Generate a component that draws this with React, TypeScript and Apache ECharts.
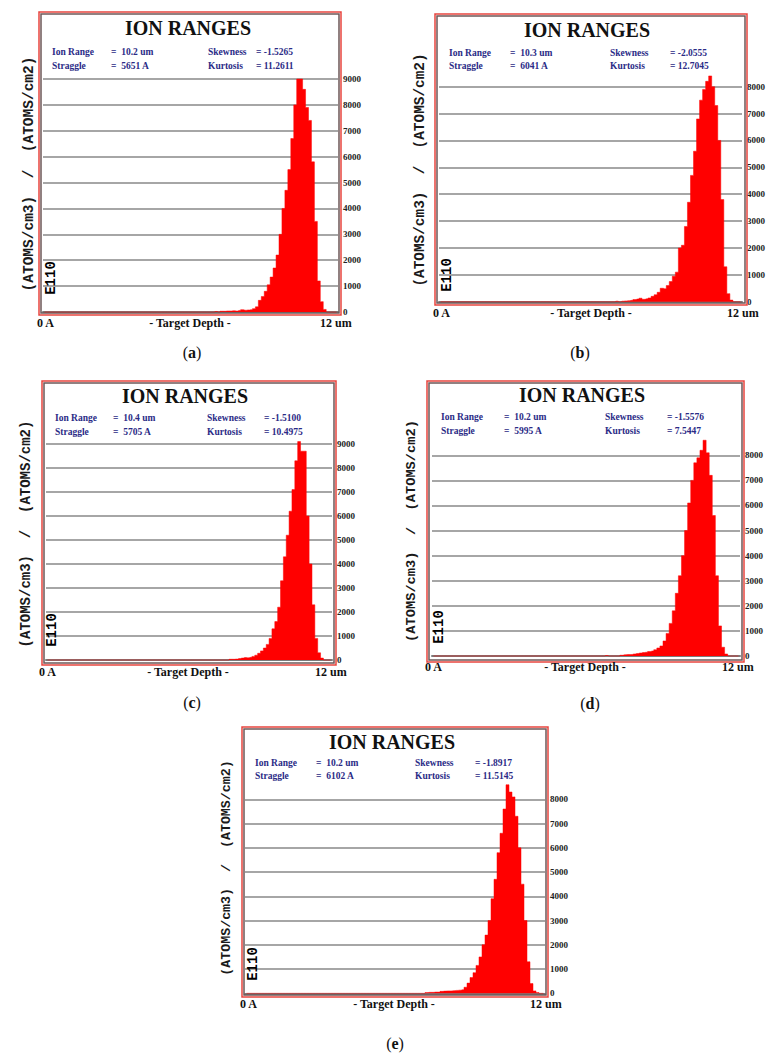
import React, { useEffect, useRef } from "react";
import * as echarts from "echarts";

// ---------- DATA (counts per 0.12 um bin, 100 bins over 0–12 um) ----------
const NUM_BINS = 100;

const startA = 58;
const countsA = [20, 0, 30, 30, 40, 40, 50, 40, 60, 90, 70, 80, 90, 130, 200, 450, 600, 800, 1050, 1350, 1700, 2200, 3000, 4000, 4700, 5500, 6700, 8000, 9000, 9000, 8600, 7900, 7400, 5800, 3500, 1200, 400, 100];

const startB = 58;
const countsB = [20, 0, 20, 30, 40, 50, 80, 100, 130, 90, 110, 140, 200, 260, 350, 500, 480, 600, 750, 950, 1100, 2000, 2100, 2800, 3700, 4700, 5600, 6800, 7500, 7900, 8200, 8400, 8000, 7300, 6000, 3800, 1300, 300, 60];

const startC = 64;
const countsC = [30, 30, 40, 60, 80, 100, 90, 110, 150, 200, 280, 380, 500, 650, 900, 1300, 1600, 2200, 3300, 4300, 5200, 6200, 7100, 8300, 9100, 8700, 8700, 6000, 4000, 2300, 900, 300, 80];

const startD = 56;
const countsD = [20, 0, 0, 0, 0, 30, 50, 60, 60, 80, 100, 120, 140, 150, 180, 200, 250, 320, 400, 600, 900, 1300, 1800, 2500, 3200, 4000, 5000, 6100, 7000, 7700, 7900, 8200, 8600, 8100, 7200, 5600, 3200, 1200, 350, 80];

const startE = 60;
const countsE = [30, 40, 40, 50, 50, 80, 90, 100, 100, 110, 120, 130, 150, 250, 420, 650, 850, 1150, 1500, 2000, 2400, 3000, 3900, 4700, 5800, 6600, 7600, 8600, 8300, 8100, 7300, 6000, 4500, 3000, 1300, 400, 100, 30];

const yMaxTicks = [9000, 8000, 9000, 8000, 8000];
const yInterval = 1000;

const ionRanges = ["10.2 um", "10.3 um", "10.4 um", "10.2 um", "10.2 um"];
const straggles = ["5651 A", "6041 A", "5705 A", "5995 A", "6102 A"];
const skewnesses = ["-1.5265", "-2.0555", "-1.5100", "-1.5576", "-1.8917"];
const kurtoses = ["11.2611", "12.7045", "10.4975", "7.5447", "11.5145"];
const captions = ["a", "b", "c", "d", "e"];

const titleText = "ION RANGES";
const yTitleText = "(ATOMS/cm3)  /  (ATOMS/cm2)";
const xLeftText = "0 A";
const xMidText = "- Target Depth -";
const xRightText = "12 um";
const ionText = "E110";

// ---------- LAYOUT ----------
type Layout = {
  frame: [number, number, number, number];
  grid: [number, number, number, number];
  title: [number, number];
  rows: [number, number];
  labX: number; eqX1: number; eqX2: number; rLabX: number; rEqX1: number; rEqX2: number;
  yTitle: [number, number, number];
  ion: [number, number];
  xLab: [number, number, number, number];
  cap: [number, number];
};

const layouts: Layout[] = [
  { frame: [39, 12, 341, 315], grid: [43, 79, 338, 312], title: [188, 28], rows: [52, 66],
    labX: 52, eqX1: 111, eqX2: 111, rLabX: 208, rEqX1: 256, rEqX2: 256,
    yTitle: [29, 174, 14.5], ion: [51, 278], xLab: [37, 190, 320, 323], cap: [192, 352] },
  { frame: [435, 14, 747, 305], grid: [439, 86.7, 742, 301.7], title: [587, 30], rows: [53, 66],
    labX: 449, eqX1: 510, eqX2: 510, rLabX: 610, rEqX1: 670, rEqX2: 670,
    yTitle: [420, 170, 14.4], ion: [447, 275], xLab: [433, 591, 727, 313], cap: [580, 352] },
  { frame: [42, 381, 336, 665], grid: [46, 444, 332, 660], title: [185, 396], rows: [418, 432],
    labX: 55, eqX1: 113, eqX2: 113, rLabX: 207, rEqX1: 264, rEqX2: 264,
    yTitle: [26, 534, 14], ion: [52, 630], xLab: [39, 188, 315, 672], cap: [192, 702] },
  { frame: [427, 381, 744, 662], grid: [432, 455.3, 740, 656], title: [582, 395], rows: [417, 431],
    labX: 441, eqX1: 504, eqX2: 504, rLabX: 605, rEqX1: 667, rEqX2: 667,
    yTitle: [411, 531, 13.7], ion: [439, 627], xLab: [425, 585, 722, 667], cap: [590, 703] },
  { frame: [242, 727, 548, 997], grid: [245, 799.3, 545, 993.3], title: [392, 742], rows: [763, 776],
    labX: 255, eqX1: 316, eqX2: 316, rLabX: 415, rEqX1: 475, rEqX2: 475,
    yTitle: [226, 868, 13.3], ion: [253, 964], xLab: [240, 394, 530, 1004], cap: [395, 1043] },
];

function expand(start: number, counts: number[]): number[] {
  const arr = new Array(NUM_BINS).fill(0);
  counts.forEach((v, i) => { arr[start + i] = v; });
  return arr;
}

const allCounts = [
  expand(startA, countsA),
  expand(startB, countsB),
  expand(startC, countsC),
  expand(startD, countsD),
  expand(startE, countsE),
];

const binLabels = Array.from({ length: NUM_BINS }, (_, i) => String(i));

const SERIF = "'Liberation Serif', 'Times New Roman', serif";
const MONO = "'Liberation Mono', 'DejaVu Sans Mono', monospace";
const BLUE = "#2b2b86";
const STAT_FS = 9.5;

function buildOption() {
  const grids: any[] = [];
  const xAxes: any[] = [];
  const yAxes: any[] = [];
  const series: any[] = [];
  const graphics: any[] = [];

  layouts.forEach((L, i) => {
    const [gl, gt, gr, gb] = L.grid;
    grids.push({ left: gl, top: gt, width: gr - gl, height: gb - gt, containLabel: false });
    xAxes.push({
      type: "category", gridIndex: i, data: binLabels, boundaryGap: true,
      axisTick: { show: false }, axisLabel: { show: false },
      axisLine: { show: true, lineStyle: { color: "#7c7c7c", width: 2 } },
      splitLine: { show: false },
    });
    yAxes.push({
      type: "value", gridIndex: i, position: "right", min: 0, max: yMaxTicks[i], interval: yInterval,
      axisLine: { show: false }, axisTick: { show: false },
      axisLabel: {
        margin: 5, fontSize: 9, fontWeight: "bold", fontFamily: SERIF, color: "#222",
        formatter: (v: number) => String(v),
      },
      splitLine: { show: true, lineStyle: { color: "#888888", width: 1.6 } },
    });
    series.push({
      type: "line", xAxisIndex: i, yAxisIndex: i, data: allCounts[i],
      step: "middle", symbol: "none", showSymbol: false, clip: false,
      lineStyle: { width: 0.5, color: "#ff0000" },
      areaStyle: { color: "#ff0000", opacity: 1 },
      silent: true, z: 3,
    });

    const [fl, ft, fr, fb] = L.frame;
    graphics.push({
      type: "rect", shape: { x: fl, y: ft, width: fr - fl, height: fb - ft },
      style: { fill: null, stroke: "#e8453f", lineWidth: 1.5 }, z: 1, silent: true,
    });
    graphics.push({
      type: "rect", shape: { x: fl + 2, y: ft + 2, width: fr - fl - 4, height: fb - ft - 4 },
      style: { fill: null, stroke: "#6e5858", lineWidth: 1.5 }, z: 1, silent: true,
    });

    const txt = (x: number, y: number, text: string, font: any, extra: any = {}) => ({
      type: "text", x, y, silent: true, z: 5,
      style: { text, fill: "#111", fontFamily: SERIF, fontWeight: "bold", verticalAlign: "middle", align: "left", ...font },
      ...extra,
    });

    graphics.push(txt(L.title[0], L.title[1], titleText, { fontSize: 20, align: "center" }));
    graphics.push(txt(L.labX, L.rows[0], "Ion Range", { fontSize: STAT_FS, fill: BLUE }));
    graphics.push(txt(L.eqX1, L.rows[0], "=  " + ionRanges[i], { fontSize: STAT_FS, fill: BLUE }));
    graphics.push(txt(L.labX, L.rows[1], "Straggle", { fontSize: STAT_FS, fill: BLUE }));
    graphics.push(txt(L.eqX2, L.rows[1], "=  " + straggles[i], { fontSize: STAT_FS, fill: BLUE }));
    graphics.push(txt(L.rLabX, L.rows[0], "Skewness", { fontSize: STAT_FS, fill: BLUE }));
    graphics.push(txt(L.rEqX1, L.rows[0], "= " + skewnesses[i], { fontSize: STAT_FS, fill: BLUE }));
    graphics.push(txt(L.rLabX, L.rows[1], "Kurtosis", { fontSize: STAT_FS, fill: BLUE }));
    graphics.push(txt(L.rEqX2, L.rows[1], "= " + kurtoses[i], { fontSize: STAT_FS, fill: BLUE }));

    graphics.push(txt(L.yTitle[0], L.yTitle[1], yTitleText,
      { fontSize: L.yTitle[2], fontFamily: MONO, align: "center", fill: "#1a1a1a" },
      { rotation: Math.PI / 2 }));
    graphics.push(txt(L.ion[0], L.ion[1], ionText,
      { fontSize: 14, fontFamily: MONO, align: "center", fill: "#000" },
      { rotation: Math.PI / 2 }));

    graphics.push(txt(L.xLab[0], L.xLab[3], xLeftText, { fontSize: 12 }));
    graphics.push(txt(L.xLab[1], L.xLab[3], xMidText, { fontSize: 12, align: "center" }));
    graphics.push(txt(L.xLab[2], L.xLab[3], xRightText, { fontSize: 12 }));

    graphics.push({
      type: "text", x: L.cap[0], y: L.cap[1], silent: true, z: 5,
      style: {
        text: "{p|(}{b|" + captions[i] + "}{p|)}", align: "center", verticalAlign: "middle",
        rich: {
          p: { fontFamily: SERIF, fontSize: 16, fill: "#111", color: "#111" },
          b: { fontFamily: SERIF, fontSize: 16, fontWeight: "bold", fill: "#111", color: "#111" },
        },
      },
    });
  });

  return {
    animation: false,
    backgroundColor: "#ffffff",
    grid: grids,
    xAxis: xAxes,
    yAxis: yAxes,
    series,
    graphic: { elements: graphics },
  };
}

export default function App() {
  const ref = useRef<HTMLDivElement>(null);
  useEffect(() => {
    if (!ref.current) return;
    const chart = echarts.init(ref.current, undefined, { renderer: "svg" });
    chart.setOption(buildOption());
    return () => chart.dispose();
  }, []);
  return (
    <div
      ref={ref}
      style={{ position: "absolute", left: 0, top: 0, width: 772, height: 1055, background: "#fff" }}
    />
  );
}
